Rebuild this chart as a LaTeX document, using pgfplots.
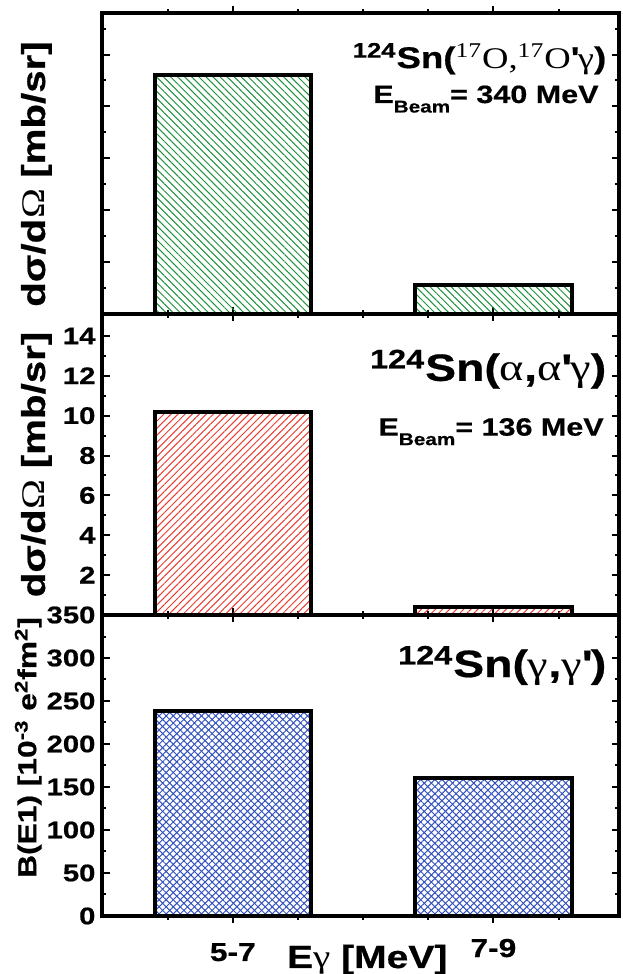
\documentclass[border=0pt]{standalone}
\usepackage{fontspec}
\setmainfont{Liberation Sans}[FakeStretch=1.22, BoldFeatures={FakeBold=0.6}]
\newfontfamily\tms{Liberation Serif}[FakeStretch=1.22]
\usepackage{pgfplots}
\pgfplotsset{compat=1.18}
\usetikzlibrary{patterns.meta}

\definecolor{hgreen}{RGB}{30,145,60}
\definecolor{hred}{RGB}{235,60,50}
\definecolor{hblue}{RGB}{50,80,190}

\newcommand{\gr}[1]{{\tms\mdseries #1}}
\newcommand{\ap}{\textquotesingle}
\newcommand{\beam}{E\raisebox{-0.38em}{\fontsize{8.5}{10}\selectfont Beam}}

\pgfplotsset{
  panel/.style={
    width=258pt, height=150.5pt, scale only axis,
    xmin=0.5, xmax=2.48,
    axis line style={line width=2pt},
    tick style={line width=1pt, black},
    tick align=inside,
    major tick length=3.5pt, minor tick length=2pt,
    xtick={1,2}, minor xtick={0.75,1.25,1.5,1.75,2.25},
    xticklabels={},
    ybar, bar width=0.6,
    font=\bfseries\fontsize{12}{14}\selectfont,
    /pgf/number format/assume math mode=true,
    ylabel style={font=\bfseries\fontsize{16.5}{18}\selectfont, anchor=center},
    clip=true,
  },
  hbar/.style={draw=black, line width=2pt, bar shift=0pt},
}

\begin{document}
\begin{tikzpicture}
\useasboundingbox (-51.25pt,-29pt) rectangle (259.75pt,458pt);

% bottom panel: B(E1) strength from photon scattering
\begin{axis}[panel, at={(0,0)},
  ymin=0, ymax=350,
  ytick={0,50,...,350}, minor ytick={25,75,...,325},
  xticklabels={5-7,\raisebox{2pt}{7-9}},
  xticklabel style={font=\bfseries\fontsize{13}{15}\selectfont, anchor=base, yshift=-19pt},
  xlabel={E\gr{γ} [MeV]},
  xlabel style={font=\bfseries\fontsize{16}{18}\selectfont, at={(axis description cs:0.513,0)}, anchor=base, yshift=-26pt},
  ylabel={B(E1) [10\textsuperscript{-3} e\textsuperscript{2}fm\textsuperscript{2}]},
  ylabel style={font=\bfseries\fontsize{13}{15}\selectfont, at={(axis description cs:-0.144,0.56)}},
]
\addplot[hbar,
  preaction={pattern={Lines[angle=-45,distance=2.5pt,line width=0.5pt]}, pattern color=hblue},
  pattern={Lines[angle=45,distance=2.5pt,line width=0.5pt]}, pattern color=hblue]
  coordinates {(1,238) (2,161)};
\node[anchor=base east, font=\bfseries\fontsize{19}{21}\selectfont]
  at (rel axis cs:0.99,0.794) {\textsuperscript{124}Sn(\gr{γ},\gr{γ}\ap)};
\end{axis}

% middle panel: alpha scattering
\begin{axis}[panel, at={(0,150.5pt)},
  ymin=0, ymax=15.1,
  ytick={2,4,...,14}, minor ytick={1,3,...,13},
  ylabel={d\textbf{σ}/d\gr{Ω} [mb/sr]},
  ylabel style={at={(axis description cs:-0.128,0.5)}},
]
\addplot[hbar,
  pattern={Lines[angle=45,distance=2.5pt,line width=0.5pt]}, pattern color=hred]
  coordinates {(1,10.2) (2,0.4)};
\node[anchor=base east, font=\bfseries\fontsize{19}{21}\selectfont]
  at (rel axis cs:0.99,0.778) {\textsuperscript{124}Sn(\gr{α},\gr{α}\ap\gr{γ})};
\node[anchor=base east, font=\bfseries\fontsize{12.5}{14}\selectfont]
  at (rel axis cs:0.985,0.596) {\beam= 136 MeV};
\end{axis}

% top panel: 17O scattering
\begin{axis}[panel, at={(0,301pt)},
  ymin=0, ymax=5.8,
  ytick={1,...,5}, yticklabels={}, minor ytick={0.5,1.5,...,5.5},
  ylabel={d\textbf{σ}/d\gr{Ω} [mb/sr]},
  ylabel style={at={(axis description cs:-0.128,0.465)}},
]
\addplot[hbar,
  pattern={Lines[angle=-45,distance=2.5pt,line width=0.5pt]}, pattern color=hgreen]
  coordinates {(1,4.61) (2,0.56)};
\node[anchor=base east, font=\bfseries\fontsize{15}{17}\selectfont]
  at (rel axis cs:0.99,0.817) {\textsuperscript{124}Sn(\gr{\textsuperscript{17}O,\textsuperscript{17}O}\ap\gr{γ})};
\node[anchor=base east, font=\bfseries\fontsize{12.5}{14}\selectfont]
  at (rel axis cs:0.975,0.701) {\beam= 340 MeV};
\end{axis}
\end{tikzpicture}
\end{document}
